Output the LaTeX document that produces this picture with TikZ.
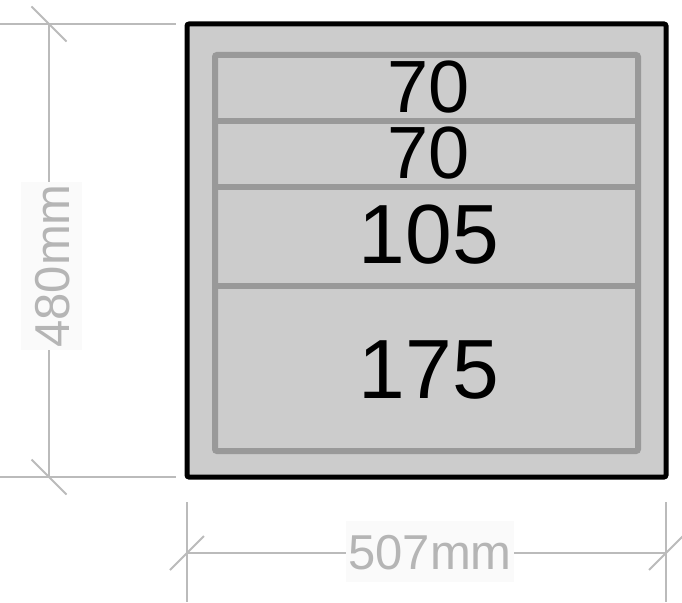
\documentclass[tikz,border=0pt]{standalone}
\usepackage{fontspec}
\setmainfont{Liberation Sans}
\definecolor{dimgray}{HTML}{BBBBBB}
\definecolor{dimtext}{HTML}{B5B5B5}
\definecolor{boxfill}{HTML}{CCCCCC}
\definecolor{drawerline}{HTML}{999999}
\definecolor{labelbg}{HTML}{FAFAFA}
\tikzset{
  dimline/.style={draw=dimgray, line width=2pt},
  dimlabel/.style={fill=labelbg, text=dimtext, font=\fontsize{49}{49}\selectfont,
    text height=35pt, text depth=0pt, inner ysep=13pt, inner xsep=2pt},
  outerbox/.style={draw=black, fill=boxfill, line width=5pt, rounded corners=2pt, outer sep=0pt},
  drawerbox/.style={draw=drawerline, fill=boxfill, line width=6pt, rounded corners=2pt, outer sep=0pt},
  divider/.style={draw=drawerline, line width=6pt},
  smalllabel/.style={font=\fontsize{74}{74}\selectfont, text height=53pt, text depth=0pt, inner sep=0pt},
  biglabel/.style={font=\fontsize{84}{84}\selectfont, text height=60pt, text depth=0pt, inner sep=0pt}
}
\begin{document}
\begin{tikzpicture}[x=1pt,y=-1pt]
\useasboundingbox (0,0) rectangle (682,602);
% cabinet
\node[outerbox, minimum width=479pt, minimum height=453pt, inner sep=0pt, anchor=north west] (cab) at (187,24) {};
\node[drawerbox, minimum width=423pt, minimum height=396pt, inner sep=0pt, anchor=north west] (drw) at (215,55) {};
\coordinate (d1l) at (215,121); \coordinate (d1r) at (638,121);
\coordinate (d2l) at (215,187); \coordinate (d2r) at (638,187);
\coordinate (d3l) at (215,286); \coordinate (d3r) at (638,286);
\draw[divider] (d1l) -- (d1r);
\draw[divider] (d2l) -- (d2r);
\draw[divider] (d3l) -- (d3r);
\node[smalllabel] (t1) at (428.5,86) {70};
\node[smalllabel] (t2) at (428.5,152) {70};
\node[biglabel] (t3) at (429,233.5) {105};
\node[biglabel] (t4) at (429,368) {175};
% vertical dimension
\coordinate (ve1a) at (0,24); \coordinate (ve1b) at (176,24);
\coordinate (ve2a) at (0,477); \coordinate (ve2b) at (176,477);
\coordinate (vt) at (49,24); \coordinate (vb) at (49,477);
\draw[dimline] (ve1a) -- (ve1b);
\draw[dimline] (ve2a) -- (ve2b);
\draw[dimline] (vt) -- (vb);
\draw[dimline] ([shift={(-17.5,-17.5)}]vt) -- ([shift={(17.5,17.5)}]vt);
\draw[dimline] ([shift={(-17.5,-17.5)}]vb) -- ([shift={(17.5,17.5)}]vb);
\node[dimlabel, rotate=90] (hlab) at (51.5,266) {480mm};
% horizontal dimension
\coordinate (he1a) at (187,502); \coordinate (he1b) at (187,602);
\coordinate (he2a) at (666,502); \coordinate (he2b) at (666,602);
\coordinate (hl) at (187,553); \coordinate (hr) at (666,553);
\draw[dimline] (he1a) -- (he1b);
\draw[dimline] (he2a) -- (he2b);
\draw[dimline] (hl) -- (hr);
\draw[dimline] ([shift={(-17,17)}]hl) -- ([shift={(17,-17)}]hl);
\draw[dimline] ([shift={(-17,17)}]hr) -- ([shift={(17,-17)}]hr);
\node[dimlabel] (wlab) at (430,551.5) {507mm};
\end{tikzpicture}
\end{document}
